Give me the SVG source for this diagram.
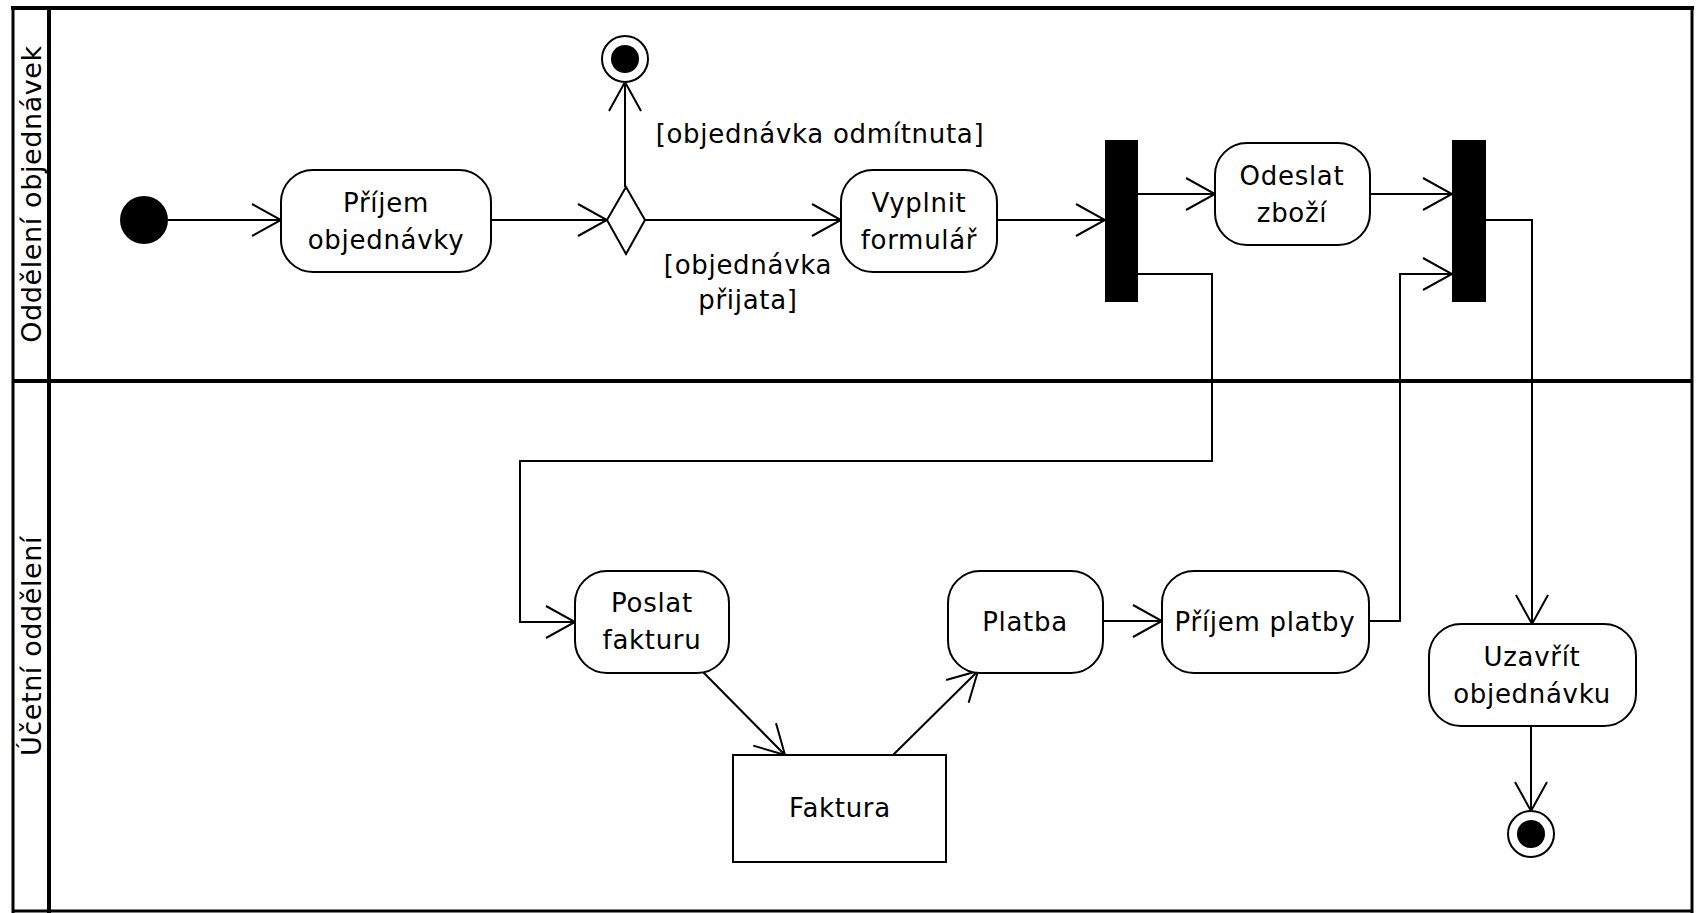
<svg xmlns="http://www.w3.org/2000/svg" width="1696" height="913" viewBox="0 0 1696 913">
<style>
.lane{stroke:#000;stroke-width:4;fill:none}
.node{fill:#fff;stroke:#000;stroke-width:2}
.t{font-family:"DejaVu Sans",sans-serif;font-size:26px;letter-spacing:0.7px;fill:#000;text-anchor:middle}
.lt{font-family:"DejaVu Sans",sans-serif;font-size:27px;letter-spacing:0.6px;fill:#000;text-anchor:middle}
.c{fill:none;stroke:#000;stroke-width:2;marker-end:url(#ah)}
</style>
<defs>
<marker id="ah" viewBox="0 0 32 34" refX="30" refY="17" markerWidth="32" markerHeight="34" markerUnits="userSpaceOnUse" orient="auto">
<path d="M1,1 L30,17 L1,33" fill="none" stroke="#000" stroke-width="2"/>
</marker>
</defs>
<rect width="1696" height="913" fill="#fff"/>
<g id="lanes">
<line class="lane" x1="11" y1="8" x2="1694" y2="8"/>
<line class="lane" x1="13" y1="8" x2="13" y2="913" style="stroke-width:3"/>
<line class="lane" x1="1692" y1="8" x2="1692" y2="913" style="stroke-width:3"/>
<line class="lane" x1="13" y1="911" x2="1692" y2="911" style="stroke-width:3"/>
<line class="lane" x1="49" y1="8" x2="49" y2="913"/>
<line class="lane" x1="13" y1="381" x2="1692" y2="381"/>
<text class="lt" transform="translate(41,194) rotate(-90)">Oddělení objednávek</text>
<text class="lt" transform="translate(41,646) rotate(-90)">Účetní oddělení</text>
</g>
<g id="connectors">
<path class="c" d="M168,220 H281"/>
<path class="c" d="M491,220 H607"/>
<path class="c" d="M625,187 V82"/>
<path class="c" d="M645,220 H841"/>
<path class="c" d="M997,220 H1105"/>
<path class="c" d="M1138,194 H1215"/>
<path class="c" d="M1370,194 H1452"/>
<path class="c" d="M1138,274 H1212 V461 H520 V622 H575"/>
<path class="c" d="M703,672 L785,755"/>
<path class="c" d="M893,755 L978,671"/>
<path class="c" d="M1103,621 H1162"/>
<path class="c" d="M1369,621 H1400 V274 H1452"/>
<path class="c" d="M1486,220 H1532 V624"/>
<path class="c" d="M1531,726 V811"/>
<text class="t" x="820" y="143">[objednávka odmítnuta]</text>
<text class="t" x="748" y="274">[objednávka</text>
<text class="t" x="748" y="309">přijata]</text>
</g>
<g id="start"><circle cx="144" cy="220" r="24" fill="#000"/></g>
<g id="prijem-objednavky">
<rect class="node" x="281" y="170" width="210" height="102" rx="32"/>
<text class="t" x="386" y="212">Příjem</text>
<text class="t" x="386" y="249">objednávky</text>
</g>
<g id="decision"><path class="node" d="M626,187 L645,220 L626,254 L607,220 Z"/></g>
<g id="end-rejected">
<circle class="node" cx="625" cy="59" r="23"/>
<circle cx="625" cy="59" r="14" fill="#000"/>
</g>
<g id="vyplnit">
<rect class="node" x="841" y="170" width="156" height="102" rx="32"/>
<text class="t" x="919" y="212">Vyplnit</text>
<text class="t" x="919" y="249">formulář</text>
</g>
<g id="fork"><rect x="1105" y="140" width="33" height="162" fill="#000"/></g>
<g id="odeslat">
<rect class="node" x="1215" y="143" width="155" height="102" rx="32"/>
<text class="t" x="1292" y="185">Odeslat</text>
<text class="t" x="1292" y="222">zboží</text>
</g>
<g id="join"><rect x="1452" y="140" width="34" height="162" fill="#000"/></g>
<g id="poslat">
<rect class="node" x="575" y="571" width="154" height="102" rx="32"/>
<text class="t" x="652" y="612">Poslat</text>
<text class="t" x="652" y="649">fakturu</text>
</g>
<g id="faktura">
<rect class="node" x="733" y="755" width="213" height="107"/>
<text class="t" x="840" y="817">Faktura</text>
</g>
<g id="platba">
<rect class="node" x="948" y="571" width="155" height="102" rx="32"/>
<text class="t" x="1025" y="631">Platba</text>
</g>
<g id="prijem-platby">
<rect class="node" x="1162" y="571" width="207" height="102" rx="32"/>
<text class="t" x="1265" y="631">Příjem platby</text>
</g>
<g id="uzavrit">
<rect class="node" x="1429" y="624" width="207" height="102" rx="32"/>
<text class="t" x="1532" y="666">Uzavřít</text>
<text class="t" x="1532" y="703">objednávku</text>
</g>
<g id="end">
<circle class="node" cx="1531" cy="834" r="23"/>
<circle cx="1531" cy="834" r="14" fill="#000"/>
</g>
</svg>
